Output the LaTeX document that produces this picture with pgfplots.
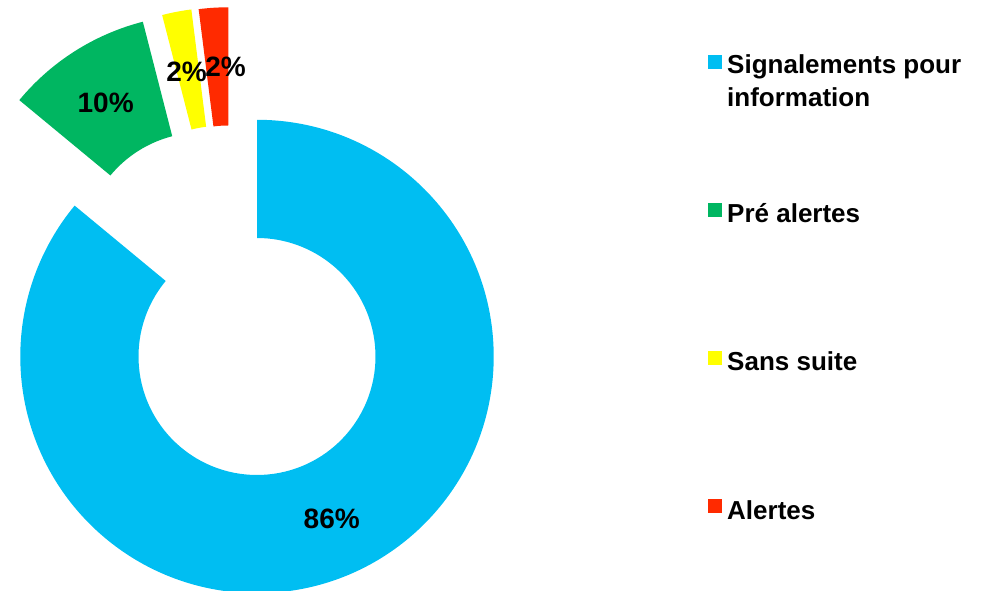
\documentclass[border=0pt]{standalone}
\usepackage{pgfplots}
\pgfplotsset{compat=1.18}
\usepackage{fontspec}
\setmainfont{Liberation Sans}
\definecolor{cBlue}{HTML}{00BEF2}
\definecolor{cGreen}{HTML}{00B661}
\definecolor{cYellow}{HTML}{FFFF00}
\definecolor{cRed}{HTML}{FF2A00}
\def\Ro{236.7}
\def\Ri{118.5}
% #1,#2 centre of the (exploded) slice, #3 cumulative start %, #4 cumulative end %, #5 colour
\newcommand{\slice}[5]{%
  \fill[#5] (axis cs:{#1+\Ro*cos(90-3.6*#3)},{#2+\Ro*sin(90-3.6*#3)})
    arc[start angle={90-3.6*#3}, end angle={90-3.6*#4}, radius=\Ro pt]
    -- (axis cs:{#1+\Ri*cos(90-3.6*#4)},{#2+\Ri*sin(90-3.6*#4)})
    arc[start angle={90-3.6*#4}, end angle={90-3.6*#3}, radius=\Ri pt] -- cycle;}
\begin{document}
\begin{tikzpicture}
\begin{axis}[x=1pt, y=1pt, xmin=0, xmax=985, ymin=0, ymax=591,
  hide axis, clip=true]
% values: 86, 10, 2, 2 (%)
\slice{257}{234.5}{0}{86}{cBlue}
\slice{201.7}{340}{86}{96}{cGreen}
\slice{221}{346.7}{96}{98}{cYellow}
\slice{228.3}{347}{98}{100}{cRed}
\tikzset{lab/.style={font=\fontsize{28}{32}\selectfont\bfseries, inner sep=0pt}}
\node[lab] at (axis cs:331.7,71.7) {86\%};
\node[lab] at (axis cs:105.7,487.7) {10\%};
\node[lab] at (axis cs:186.5,519.3) {2\%};
\node[lab] at (axis cs:225.5,524.3) {2\%};
\tikzset{leg/.style={font=\fontsize{26}{33}\selectfont\bfseries, inner sep=0pt, anchor=base west}}
\fill[cBlue] (axis cs:708,522) rectangle (axis cs:722,536);
\node[leg] at (axis cs:727,517.5) {Signalements pour};
\node[leg] at (axis cs:727,484.5) {information};
\fill[cGreen] (axis cs:708,374.3) rectangle (axis cs:722,388.3);
\node[leg] at (axis cs:727,368.7) {Pré alertes};
\fill[cYellow] (axis cs:708,226) rectangle (axis cs:722,240);
\node[leg] at (axis cs:727,220.5) {Sans suite};
\fill[cRed] (axis cs:708,77.7) rectangle (axis cs:722,91.7);
\node[leg] at (axis cs:727,71.7) {Alertes};
\end{axis}
\pgfresetboundingbox
\useasboundingbox (0,0) rectangle (985pt,591pt);
\end{tikzpicture}
\end{document}
